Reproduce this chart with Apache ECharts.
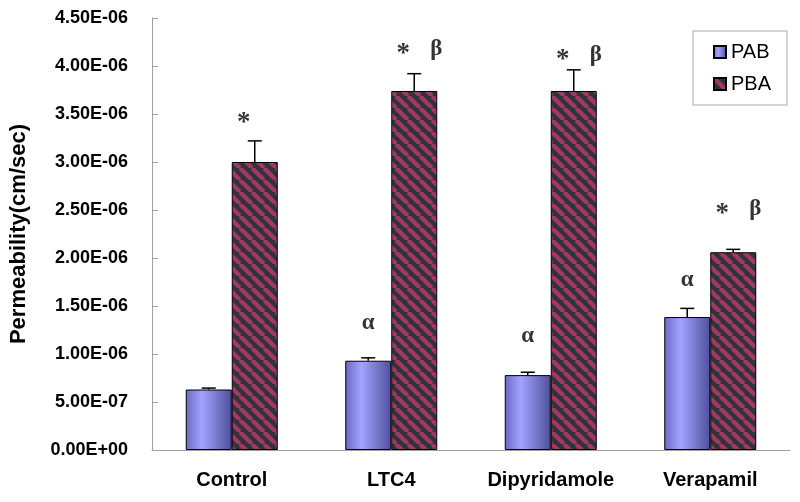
<!DOCTYPE html>
<html>
<head>
<meta charset="utf-8">
<script src="https://cdn.jsdelivr.net/npm/echarts@6/dist/echarts.min.js"></script>
<style>
  html, body { margin: 0; padding: 0; background: #fff; }
  #chart { width: 800px; height: 502px; }
</style>
</head>
<body>
<div id="chart"></div>
<script>
const categories = ["Control", "LTC4", "Dipyridamole", "Verapamil"];
const pab = [6.3e-7, 9.3e-7, 7.8e-7, 1.385e-6];
const pabErr = [1.5e-8, 3e-8, 3e-8, 9e-8];
const pba = [3.0e-6, 3.74e-6, 3.74e-6, 2.06e-6];
const pbaErr = [2.2e-7, 1.8e-7, 2.2e-7, 3e-8];

// significance marks (height in data units)
const alphaY = [null, 1.32e-6, 1.19e-6, 1.77e-6];
const starY = [3.46e-6, 4.18e-6, 4.11e-6, 2.51e-6];
const betaY = [null, 4.18e-6, 4.11e-6, 2.51e-6];

const yMax = 4.5e-6;
const yStep = 5e-7;

function fmt(v) {
  if (Math.abs(v) < 1e-12) return "0.00E+00";
  let e = Math.floor(Math.log10(Math.abs(v)) + 1e-9);
  let m = v / Math.pow(10, e);
  let sign = e < 0 ? "-" : "+";
  let ex = String(Math.abs(e)).padStart(2, "0");
  return m.toFixed(2) + "E" + sign + ex;
}

// striped fill for PBA
const S = 12;
const stripe = document.createElement("canvas");
stripe.width = S;
stripe.height = S;
const ctx = stripe.getContext("2d");
ctx.fillStyle = "#333333";
ctx.fillRect(0, 0, S, S);
ctx.strokeStyle = "#a0386c";
ctx.lineWidth = 4.2;
[-S, 0, S].forEach((o) => {
  ctx.beginPath();
  ctx.moveTo(o, 0);
  ctx.lineTo(o + S, S);
  ctx.stroke();
});

const blueFill = new echarts.graphic.LinearGradient(0, 0, 1, 0, [
  { offset: 0, color: "#6a6ac4" },
  { offset: 0.35, color: "#a3a3ff" },
  { offset: 1, color: "#4f4f9c" },
]);

const barW = 46;

function errBar(dx) {
  return function (params, api) {
    const c = api.coord([api.value(0), api.value(1)]);
    const t = api.coord([api.value(0), api.value(1) + api.value(2)]);
    const x = c[0] + dx;
    return {
      type: "group",
      children: [
        { type: "line", shape: { x1: x, y1: c[1], x2: x, y2: t[1] }, style: { stroke: "#000", lineWidth: 1.5 } },
        { type: "line", shape: { x1: x - 7, y1: t[1], x2: x + 7, y2: t[1] }, style: { stroke: "#000", lineWidth: 1.5 } },
      ],
    };
  };
}

function mark(ys, text, dx, dy, fontSize, weight) {
  return {
    type: "scatter",
    symbolSize: 1,
    itemStyle: { color: "transparent" },
    silent: true,
    z: 10,
    data: ys.map((y, i) => (y == null ? null : [i, y])).filter((d) => d),
    label: {
      show: true,
      position: "inside",
      offset: [dx, dy],
      formatter: text,
      color: "#000",
      fontFamily: "Liberation Serif",
      fontWeight: weight,
      fontSize: fontSize,
    },
  };
}

const chart = echarts.init(document.getElementById("chart"));
chart.setOption({
  animation: false,
  grid: { left: 152, right: 10, top: 18, bottom: 52 },
  legend: {
    data: ["PAB", "PBA"],
    orient: "vertical",
    right: 13,
    top: 31,
    borderColor: "#aaa",
    borderWidth: 1,
    padding: [11, 16, 11, 20],
    itemGap: 12,
    itemWidth: 12,
    itemHeight: 12,
    icon: "rect",
    textStyle: { fontSize: 20, fontFamily: "Liberation Sans", color: "#000" },
  },
  xAxis: {
    type: "category",
    data: categories,
    axisLine: { lineStyle: { color: "#a0a0a0" } },
    axisTick: { show: false },
    axisLabel: {
      interval: 0,
      margin: 20,
      color: "#000",
      fontWeight: "bold",
      fontSize: 20,
      fontFamily: "Liberation Sans",
    },
  },
  yAxis: {
    type: "value",
    min: 0,
    max: yMax,
    interval: yStep,
    name: "Permeability(cm/sec)",
    nameLocation: "middle",
    nameGap: 122,
    nameTextStyle: { fontSize: 22, fontWeight: "bold", fontFamily: "Liberation Sans", color: "#000" },
    axisLine: { show: true, lineStyle: { color: "#a0a0a0" } },
    axisTick: { show: true, inside: true, length: 6, lineStyle: { color: "#a0a0a0" } },
    splitLine: { show: false },
    axisLabel: {
      margin: 24,
      color: "#000",
      fontWeight: "bold",
      fontSize: 18,
      fontFamily: "Liberation Sans",
      formatter: fmt,
    },
  },
  series: [
    {
      name: "PAB",
      type: "bar",
      data: pab,
      barWidth: barW,
      barGap: "0%",
      itemStyle: { color: blueFill, borderColor: "#000", borderWidth: 1 },
    },
    {
      name: "PBA",
      type: "bar",
      data: pba,
      barWidth: barW,
      itemStyle: { color: { image: stripe, repeat: "repeat" }, borderColor: "#000", borderWidth: 1 },
    },
    {
      type: "custom",
      renderItem: errBar(-barW / 2),
      data: pab.map((v, i) => [i, v, pabErr[i]]),
      z: 5,
      silent: true,
    },
    {
      type: "custom",
      renderItem: errBar(barW / 2),
      data: pba.map((v, i) => [i, v, pbaErr[i]]),
      z: 5,
      silent: true,
    },
    mark(alphaY, "α", -23, 0, 23, "bold"),
    mark(starY, "*", 12, 5, 27, "bold"),
    mark(betaY, "β", 45, 0, 23, "bold"),
  ],
});
</script>
</body>
</html>
